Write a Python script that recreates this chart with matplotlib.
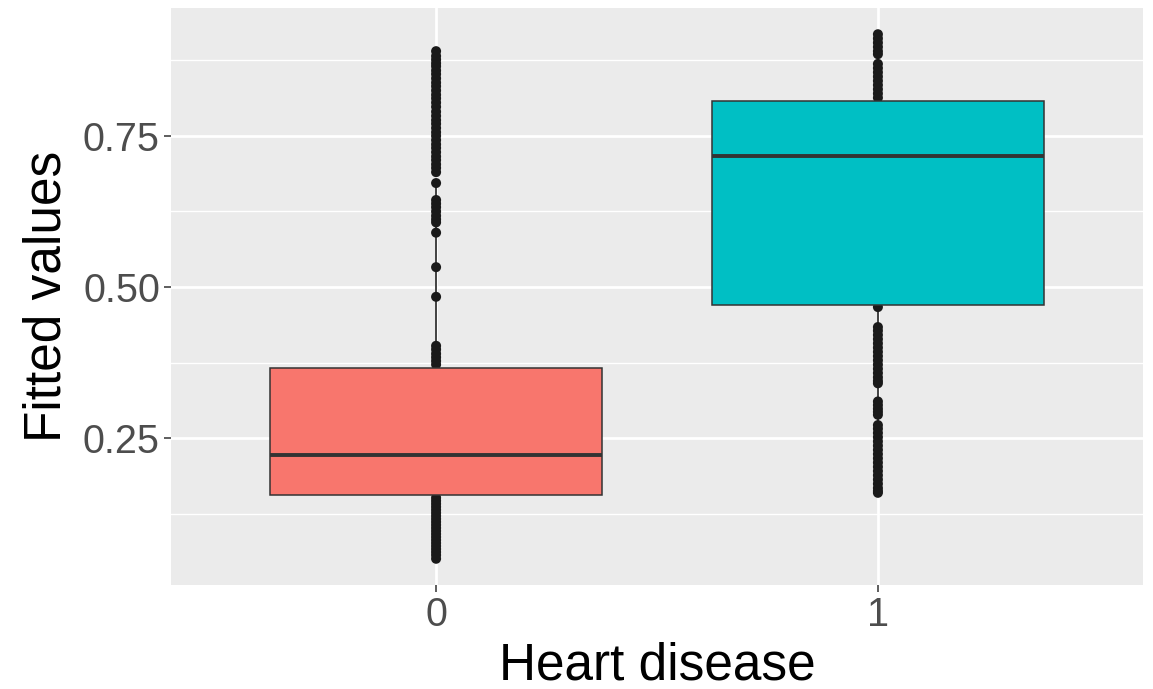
import numpy as np
import matplotlib.pyplot as plt

plt.rcParams['font.family'] = ['Liberation Sans', 'DejaVu Sans']

groups = ['0', '1']
box_colors = ['#F8766D', '#00BFC4']

# box statistics
q1 = [0.156, 0.470]
median = [0.223, 0.716]
q3 = [0.367, 0.807]
whisker_lo = [0.051, 0.160]
whisker_hi = [0.672, 0.918]

# fitted values visible as points
points_0 = [0.890, 0.882, 0.876, 0.870, 0.865, 0.858, 0.852, 0.845, 0.838, 0.832,
            0.825, 0.818, 0.812, 0.805, 0.798, 0.790, 0.783, 0.776, 0.770, 0.763,
            0.756, 0.750, 0.743, 0.736, 0.730, 0.723, 0.716, 0.710, 0.703, 0.697,
            0.690, 0.672, 0.644, 0.638, 0.632, 0.625, 0.618, 0.612, 0.607, 0.590,
            0.533, 0.484, 0.403, 0.397, 0.390, 0.384, 0.378, 0.372, 0.300, 0.250,
            0.200, 0.152, 0.147, 0.142, 0.137, 0.132, 0.127, 0.122, 0.117, 0.112,
            0.107, 0.102, 0.097, 0.092, 0.087, 0.082, 0.077, 0.072, 0.067, 0.062,
            0.057, 0.051]
points_1 = [0.918, 0.911, 0.904, 0.897, 0.890, 0.885, 0.869, 0.862, 0.855, 0.848,
            0.841, 0.834, 0.827, 0.820, 0.813, 0.750, 0.650, 0.550,
            0.467, 0.434, 0.428, 0.421, 0.414, 0.407, 0.400, 0.393, 0.386, 0.379,
            0.372, 0.365, 0.358, 0.351, 0.345, 0.341, 0.311, 0.305, 0.299, 0.294,
            0.289, 0.272, 0.266, 0.259, 0.252, 0.245, 0.238, 0.231, 0.224, 0.217,
            0.210, 0.203, 0.196, 0.189, 0.182, 0.175, 0.168, 0.163, 0.160]
points = [points_0, points_1]

fig = plt.figure(figsize=(11.53, 6.89), dpi=100)
ax = fig.add_axes([171 / 1153, 1 - 585 / 689, 972 / 1153, 577 / 689])
ax.set_facecolor('#EBEBEB')

pos = np.arange(len(groups))
for i in range(len(groups)):
    ax.scatter(np.full(len(points[i]), pos[i]), points[i], s=52, color='#1A1A1A',
               edgecolors='none', zorder=3)

stats = []
for i in range(len(groups)):
    stats.append({'med': median[i], 'q1': q1[i], 'q3': q3[i],
                  'whislo': whisker_lo[i], 'whishi': whisker_hi[i], 'fliers': []})
bp = ax.bxp(stats, positions=pos, widths=0.75, patch_artist=True, showcaps=False,
            boxprops=dict(edgecolor='#333333', linewidth=1.1),
            whiskerprops=dict(color='#333333', linewidth=1.3),
            medianprops=dict(color='#333333', linewidth=2.8), manage_ticks=False)
for patch, c in zip(bp['boxes'], box_colors):
    patch.set_facecolor(c)
    patch.set_zorder(4)
for m in bp['medians']:
    m.set_zorder(5)
for w in bp['whiskers']:
    w.set_zorder(2)

allv = np.concatenate(points)
rng = allv.max() - allv.min()
ax.set_ylim(allv.min() - 0.05 * rng, allv.max() + 0.05 * rng)
ax.set_xlim(-0.6, 1.6)

ax.set_xticks(pos)
ax.set_xticklabels(groups)
ax.set_yticks([0.25, 0.50, 0.75])
ax.set_yticklabels(['0.25', '0.50', '0.75'])
ax.set_yticks([0.125, 0.375, 0.625, 0.875], minor=True)
ax.grid(which='major', color='white', linewidth=2.0)
ax.grid(which='minor', axis='y', color='white', linewidth=1.0)
ax.set_axisbelow(True)
ax.tick_params(axis='both', which='major', length=5, width=1.1, color='#333333',
               labelsize=28.5, labelcolor='#4D4D4D', pad=3)
ax.tick_params(axis='both', which='minor', length=0)
for s in ax.spines.values():
    s.set_visible(False)

ax.set_xlabel('Heart disease', fontsize=37, labelpad=5)
ax.set_ylabel('Fitted values', fontsize=37, labelpad=8)

fig.savefig('out.png', dpi=100)
